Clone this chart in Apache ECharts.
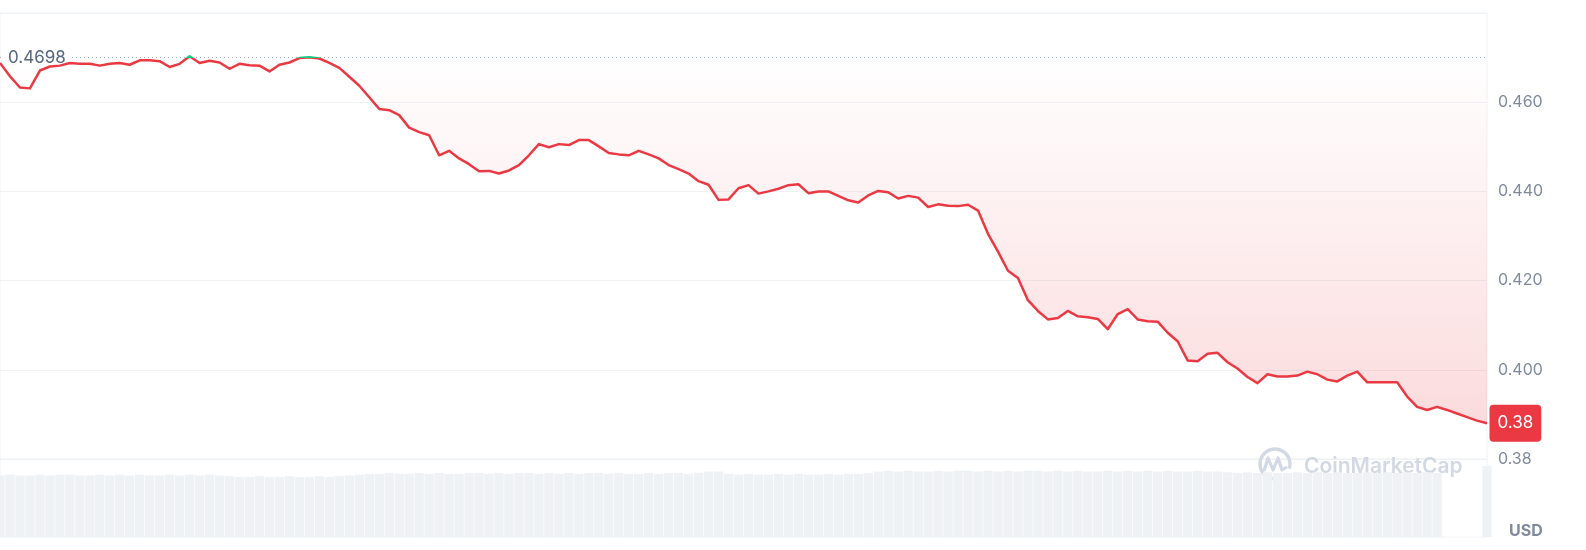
<!DOCTYPE html>
<html>
<head>
<meta charset="utf-8">
<script src="https://cdn.jsdelivr.net/npm/echarts@6/dist/echarts.min.js"></script>
<style>
html,body{margin:0;padding:0;background:#fff;}
#chart{width:1586px;height:550px;}
</style>
</head>
<body>
<div id="chart"></div>
<script>
// ---- data ----
const openPrice = 0.4698;
const lastPriceLabel = '0.38';
const yTickLabels = ['0.38', '0.400', '0.420', '0.440', '0.460', ''];
const priceValues = [
  0.4688,0.4658,0.4633,0.4631,0.4671,0.4680,0.4682,0.4688,0.4686,0.4686,
  0.4682,0.4686,0.4688,0.4684,0.4694,0.4694,0.4692,0.4679,0.4686,0.4703,
  0.4688,0.4693,0.4689,0.4675,0.4686,0.4683,0.4682,0.4669,0.4684,0.4689,
  0.4699,0.4701,0.4698,0.4688,0.4677,0.4657,0.4637,0.4611,0.4585,0.4582,
  0.4571,0.4543,0.4533,0.4526,0.4481,0.4491,0.4474,0.4461,0.4445,0.4446,
  0.4440,0.4447,0.4459,0.4481,0.4506,0.4499,0.4506,0.4504,0.4515,0.4515,
  0.4501,0.4486,0.4483,0.4481,0.4491,0.4483,0.4474,0.4459,0.4450,0.4440,
  0.4423,0.4415,0.4381,0.4382,0.4407,0.4414,0.4395,0.4400,0.4406,0.4414,
  0.4416,0.4396,0.4400,0.4400,0.4390,0.4380,0.4375,0.4391,0.4401,0.4398,
  0.4384,0.4390,0.4386,0.4365,0.4371,0.4368,0.4367,0.4370,0.4357,0.4305,
  0.4265,0.4222,0.4206,0.4156,0.4132,0.4113,0.4116,0.4132,0.4120,0.4118,
  0.4114,0.4091,0.4125,0.4136,0.4113,0.4109,0.4108,0.4083,0.4064,0.4021,
  0.4019,0.4036,0.4038,0.4017,0.4003,0.3984,0.3970,0.3990,0.3985,0.3985,
  0.3987,0.3996,0.3990,0.3978,0.3974,0.3987,0.3996,0.3972,0.3972,0.3972,
  0.3972,0.3940,0.3917,0.3910,0.3917,0.3910,0.3902,0.3894,0.3886,0.3880
];
const volumeValues = [
  79,80,79,79,80,79,80,80,79,79,80,79,80,79,80,79,79,80,79,80,79,80,79,
  78,77,77,78,77,77,78,77,77,78,77,78,79,80,
  81,81,82,81,81,82,81,82,81,81,82,82,81,82,81,82,82,81,82,81,82,81,82,82,81,82,81,81,82,81,82,82,81,82,
  84,84,
  81,80,81,80,80,81,80,81,80,80,81,80,81,81,82,
  84,85,84,85,84,84,85,84,85,85,84,85,84,85,84,85,85,84,85,84,85,84,84,85,84,85,84,85,84,85,84,84,85,84,84,
  83,82,83,82,83,82,82,83,82,83,82,83,82,82,83,82,83,82,83,82,83,82,
  0,0,0,0,
  91
];
const categories = priceValues.map((_, i) => String(i));

const chart = echarts.init(document.getElementById('chart'), null, {renderer: 'canvas'});
const axisColor = '#808a9d';
const gridLine = '#eff2f5';
const red = '#ea3943';
const green = '#16c784';
const lastIdx = priceValues.length - 1;

chart.setOption({
  animation: false,
  backgroundColor: '#ffffff',
  title: {
    text: 'USD', left: 1509, top: 523, padding: 0,
    textStyle: {fontSize: 16, fontWeight: 'bold', color: axisColor, fontFamily: 'Inter'}
  },
  grid: [
    {left: -1, right: 99, top: 13, height: 446, show: true, borderColor: gridLine, borderWidth: 1, backgroundColor: 'transparent'},
    {left: -1, right: 99, top: 459, height: 78, show: true, borderColor: gridLine, borderWidth: 1, backgroundColor: 'transparent'}
  ],
  xAxis: [
    {type: 'category', gridIndex: 0, data: categories, boundaryGap: false, show: false},
    {type: 'category', gridIndex: 1, data: categories, boundaryGap: false, show: false}
  ],
  yAxis: [
    {
      type: 'value', gridIndex: 0, position: 'right', min: 0.38, max: 0.48, interval: 0.02,
      axisLine: {show: false}, axisTick: {show: false},
      splitLine: {show: true, lineStyle: {color: gridLine, width: 1}},
      axisLabel: {
        margin: 11, fontSize: 16, color: axisColor, fontFamily: 'Inter',
        formatter: v => yTickLabels[Math.round((v - 0.38) / 0.02)] || ''
      }
    },
    {type: 'value', gridIndex: 1, min: 0, max: 100, show: false, splitLine: {show: false}}
  ],
  visualMap: {
    show: false, type: 'piecewise', seriesIndex: 0, dimension: 1,
    pieces: [
      {gt: openPrice, lte: 1, color: green},
      {gt: 0, lte: openPrice, color: red}
    ]
  },
  graphic: [
    {
      type: 'arc', z: 1,
      shape: {cx: 1275, cy: 464, r: 15, startAngle: Math.PI * 0.45, endAngle: Math.PI * 2.1},
      style: {stroke: '#d3d9e4', lineWidth: 3.5, fill: null}
    },
    {
      type: 'polyline', z: 1,
      shape: {points: [[1264, 471], [1268, 458], [1273, 470], [1278, 458], [1282, 470], [1287, 467]]},
      style: {stroke: '#d3d9e4', lineWidth: 3.2, fill: null, lineJoin: 'round'}
    },
    {
      type: 'text', z: 1, x: 1304, y: 467,
      style: {text: 'CoinMarketCap', fill: '#d3d9e4', font: '600 21px Inter', verticalAlign: 'middle'}
    }
  ],
  series: [
    {
      type: 'line', xAxisIndex: 0, yAxisIndex: 0, data: priceValues,
      showSymbol: false, smooth: false, z: 5,
      lineStyle: {width: 2.5, join: 'round'},
      areaStyle: {
        origin: openPrice,
        color: new echarts.graphic.LinearGradient(0, 0, 0, 1, [
          {offset: 0, color: 'rgba(234,57,67,0.0)'},
          {offset: 1, color: 'rgba(234,57,67,0.26)'}
        ])
      },
      markLine: {
        silent: true, symbol: ['none', 'none'], animation: false,
        data: [
          {
            yAxis: openPrice,
            lineStyle: {color: '#a7b0c0', type: [1, 3], width: 1},
            label: {
              show: true, position: 'insideStart', distance: [4, 0],
              formatter: () => String(openPrice),
              fontSize: 17, color: '#58667e', fontFamily: 'Inter',
              backgroundColor: 'rgba(255,255,255,0.85)', padding: [7, 4, 1, 4], borderRadius: 4
            }
          }
        ]
      },
      markPoint: {
        silent: true, animation: false,
        symbol: 'rect', symbolSize: [1, 1],
        itemStyle: {color: 'rgba(0,0,0,0)'},
        data: [{coord: [lastIdx, priceValues[lastIdx]], value: priceValues[lastIdx]}],
        label: {
          show: true, position: 'right', distance: 2,
          formatter: () => lastPriceLabel,
          fontSize: 17, lineHeight: 19, color: '#ffffff', fontFamily: 'Inter',
          backgroundColor: red, padding: [9, 8, 9, 8], borderRadius: 4
        }
      }
    },
    {
      type: 'bar', xAxisIndex: 1, yAxisIndex: 1, data: volumeValues,
      barCategoryGap: '6%', itemStyle: {color: '#eff2f5'}, z: 2
    }
  ]
});
</script>
</body>
</html>
